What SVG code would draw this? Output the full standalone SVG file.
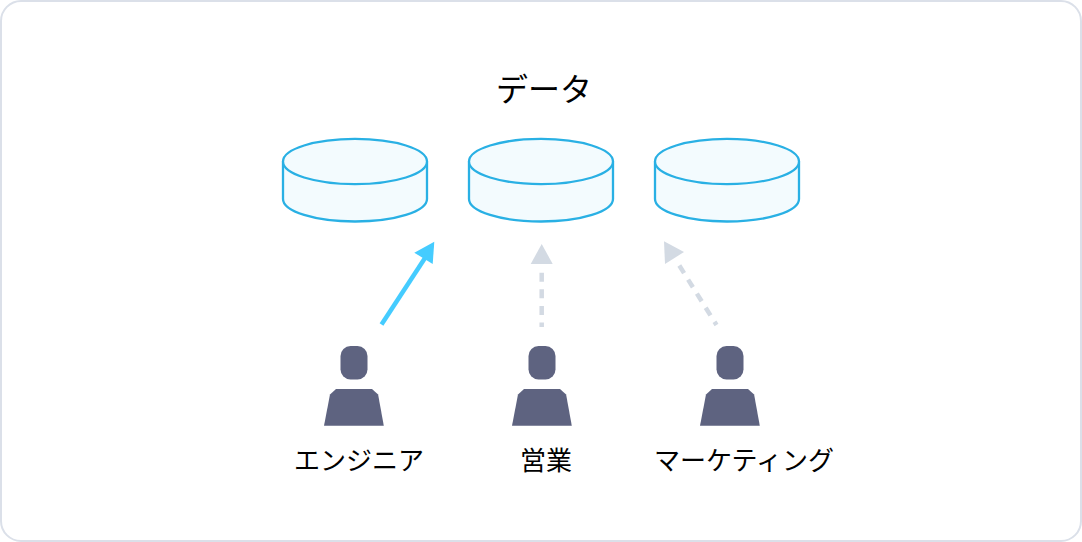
<svg xmlns="http://www.w3.org/2000/svg" width="1082" height="542" viewBox="0 0 1082 542">
<style>
.lbl{font-family:"Noto Sans CJK JP","Noto Sans",sans-serif;text-anchor:middle;fill:#000}
.t{font-size:26px}
.cyl{fill:#f3fbfe;stroke:#29b0e4;stroke-width:2.300}
.p{fill:#5e6380}
.d{fill:none;stroke:#d3dae3;stroke-width:4.500;stroke-dasharray:9 7.600}
</style>
<defs>
<g id="cyl"><path class="cyl" d="M-72 0V37.500C-72 50-39.800 60 0 60S72 50 72 37.500V0"/><ellipse class="cyl" cx="0" cy="0" rx="72" ry="22.600"/></g>
<g id="person"><rect class="p" x="-13.500" y="0" width="27" height="33.500" rx="10" ry="10"/><path class="p" d="M-18 43H18L24.100 48.500L29.800 79.800H-30L-24 48.500Z"/></g>
</defs>
<rect x="1" y="1" width="1080" height="540" rx="20" fill="#fff" stroke="#dbe0e9" stroke-width="2"/>
<text class="lbl" x="544" y="100.700" font-size="32">データ</text>
<g id="db1"><use href="#cyl" x="355" y="161.500"/></g>
<g id="db2"><use href="#cyl" x="541" y="161.500"/></g>
<g id="db3"><use href="#cyl" x="727" y="161.500"/></g>
<g id="connectors">
<path d="M381.500 324.500L425 258" fill="none" stroke="#45ccff" stroke-width="4.500"/>
<path d="M434.300 241.700L414.300 252.700L432.700 264Z" fill="#45ccff"/>
<path class="d" d="M541.700 272.700V327"/>
<path d="M541.700 244L530.700 264H552.700Z" fill="#d3dae3"/>
<path class="d" d="M679.300 265.500L716.500 325"/>
<path d="M664 241.300L665 264L684 252Z" fill="#d3dae3"/>
</g>
<g id="engineer"><use href="#person" x="354" y="346"/><text class="lbl t" x="359" y="470.300">エンジニア</text></g>
<g id="sales"><use href="#person" x="542" y="346"/><text class="lbl t" x="546" y="470.300">営業</text></g>
<g id="marketing"><use href="#person" x="730" y="346"/><text class="lbl t" x="744" y="470.300">マーケティング</text></g>
</svg>
